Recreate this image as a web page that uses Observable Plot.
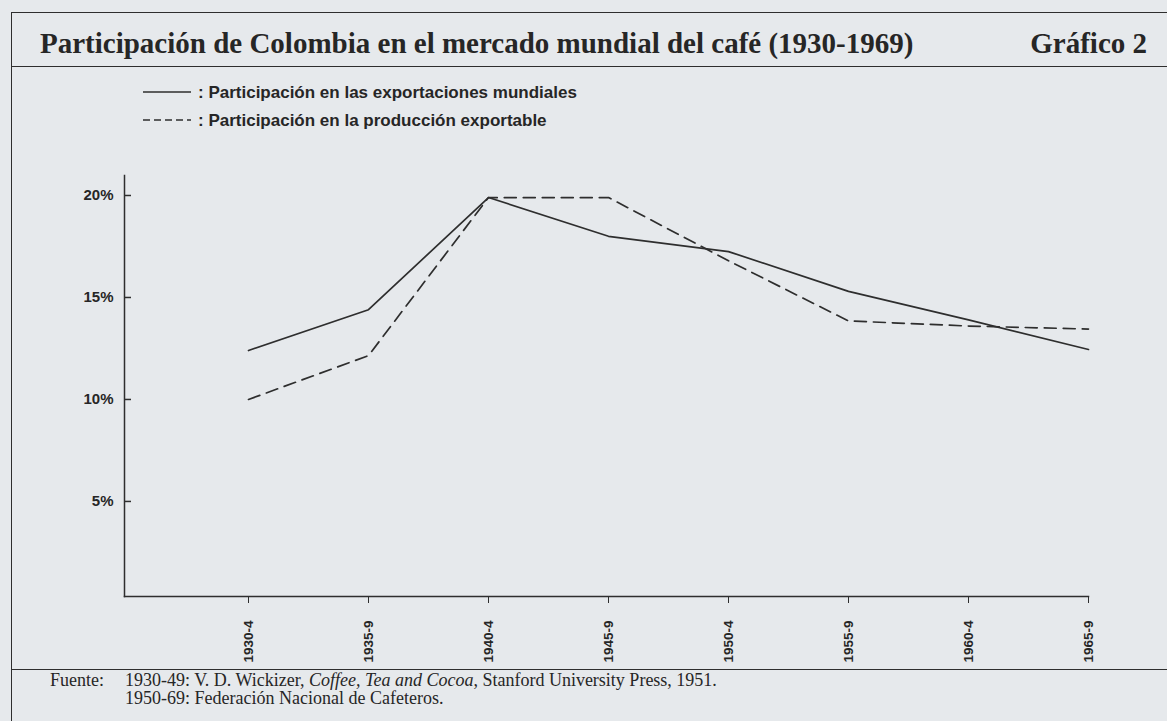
<!DOCTYPE html>
<html><head><meta charset="utf-8">
<script src="https://cdn.jsdelivr.net/npm/d3@7"></script>
<script src="https://cdn.jsdelivr.net/npm/@observablehq/plot@0.6"></script>
<style>
html,body{margin:0;padding:0;}
body{width:1167px;height:721px;background:#e6e9ec;position:relative;overflow:hidden;color:#262626;}
.abs{position:absolute;white-space:nowrap;}
.title{font:bold 29px/29px "Liberation Serif","Times New Roman",serif;}
.leg{font:bold 17px/17px "Liberation Sans",Arial,sans-serif;}
.foot{font:18px/18px "Liberation Serif","Times New Roman",serif;}
.hline{position:absolute;height:0;border-top:1.5px solid #2e2e2e;}
.vline{position:absolute;width:0;border-left:1.5px solid #2e2e2e;}
#chart{position:absolute;left:0;top:150px;}
#chart svg text{font-weight:bold;}
</style></head><body>
<div class="hline" style="left:11px;top:12px;width:1156px"></div>
<div class="vline" style="left:11px;top:12px;height:709px"></div>
<div class="hline" style="left:11px;top:66px;width:1156px"></div>
<div class="hline" style="left:11px;top:669px;width:1156px"></div>

<div class="abs title" id="title" style="left:40px;top:29px">Participación de Colombia en el mercado mundial del café (1930-1969)</div>
<div class="abs title" id="grafico" style="right:20px;top:29px">Gráfico 2</div>

<svg class="abs" style="left:140px;top:84px" width="55" height="44">
  <line x1="3" x2="51" y1="8" y2="8" stroke="#2e2e2e" stroke-width="1.7"/>
  <line x1="3" x2="51" y1="36" y2="36" stroke="#2e2e2e" stroke-width="1.7" stroke-dasharray="7,4"/>
</svg>
<div class="abs leg" id="leg1" style="left:198px;top:84px">: Participación en las exportaciones mundiales</div>
<div class="abs leg" id="leg2" style="left:198px;top:112px">: Participación en la producción exportable</div>

<div id="chart"></div>

<div class="abs foot" style="left:50px;top:671px">Fuente:</div>
<div class="abs foot" style="left:125px;top:671px">1930-49: V. D. Wickizer, <i>Coffee, Tea and Cocoa</i>, Stanford University Press, 1951.</div>
<div class="abs foot" style="left:125px;top:689px">1950-69: Federación Nacional de Cafeteros.</div>

<script>
const periodos = ["1930-4","1935-9","1940-4","1945-9","1950-4","1955-9","1960-4","1965-9"];
const exportacionesMundiales = [12.4, 14.4, 19.9, 18.0, 17.25, 15.3, 13.9, 12.45];
const produccionExportable = [10.0, 12.15, 19.9, 19.9, 16.8, 13.85, 13.6, 13.45];
const yTicks = [5, 10, 15, 20];

const exportData = periodos.map((p, i) => ({periodo: p, valor: exportacionesMundiales[i]}));
const prodData = periodos.map((p, i) => ({periodo: p, valor: produccionExportable[i]}));

const W = 1167, H = 520, mL = 124, mR = 79;
const ink = "#2e2e2e";
const chart = Plot.plot({
  width: W, height: H,
  marginTop: 25, marginBottom: 74, marginLeft: mL, marginRight: mR,
  style: {background: "transparent", fontFamily: "'Liberation Sans', Arial, sans-serif", color: "#262626", overflow: "visible"},
  x: {type: "point", domain: periodos, padding: 0, insetLeft: 124, label: null},
  y: {domain: [0.34, 20.98], label: null},
  marks: [
    Plot.frame({anchor: "left", stroke: ink, strokeWidth: 1.5}),
    Plot.frame({anchor: "bottom", stroke: ink, strokeWidth: 1.5}),
    Plot.ruleY(yTicks, {insetRight: W - mL - mR - 7, stroke: ink, strokeWidth: 1.5}),
    Plot.axisY({ticks: yTicks, tickSize: 0, tickPadding: 11, tickFormat: d => d + "%", fontSize: 15, fontWeight: "bold", label: null}),
    Plot.axisX({tickSize: 7, tickPadding: 17, tickRotate: -90, textAnchor: "end", lineAnchor: "middle", fontSize: 13.5, fontWeight: "bold", stroke: ink, label: null}),
    Plot.lineY(exportData, {x: "periodo", y: "valor", stroke: ink, strokeWidth: 1.7}),
    Plot.lineY(prodData, {x: "periodo", y: "valor", stroke: ink, strokeWidth: 1.7, strokeDasharray: "12,7"})
  ]
});
document.getElementById("chart").appendChild(chart);
</script>
</body></html>
